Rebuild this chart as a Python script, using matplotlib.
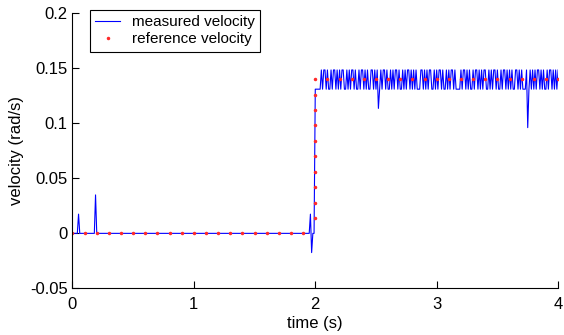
import numpy as np
import matplotlib.pyplot as plt

plt.rcParams['font.family'] = ['Liberation Sans', 'DejaVu Sans']
plt.rcParams['font.size'] = 12

# encoder resolution: half a degree -> velocity quantum (rad/s)
quantum = np.pi / 360

# measured velocity before the step (breakpoints of the trace, in quanta)
meas_t_pre = [0.00, 0.04, 0.05, 0.06, 0.18, 0.19, 0.20, 1.95, 1.96, 1.97, 1.98, 1.99]
meas_q_pre = [0, 0, 2, 0, 0, 4, 0, 0, 2, -2, 0, 0]

# measured velocity after the step, sampled every 10 ms from t = 2.00 s (in quanta)
meas_q_post = [
    15, 15, 15, 15, 15, 17, 15, 17, 17, 15, 17, 15, 15, 17, 15, 17, 17, 15, 17, 15,
    17, 15, 17, 17, 15, 15, 17, 15, 17, 15, 17, 17, 15, 17, 15, 15, 17, 15, 17, 17,
    15, 17, 15, 17, 15, 15, 17, 17, 15, 17, 15, 17, 13, 15, 17, 15, 17, 17, 15, 17,
    15, 15, 17, 15, 17, 15, 17, 17, 15, 17, 15, 15, 17, 15, 17, 15, 17, 17, 15, 17,
    15, 17, 15, 17, 15, 15, 15, 17, 17, 15, 17, 15, 17, 15, 17, 17, 15, 15, 17, 15,
    17, 15, 17, 17, 15, 17, 15, 15, 17, 15, 17, 15, 17, 17, 15, 17, 15, 15, 15, 15,
    17, 15, 17, 17, 15, 17, 15, 17, 15, 15, 17, 15, 17, 17, 15, 17, 15, 17, 15, 17,
    17, 15, 15, 17, 15, 17, 15, 17, 17, 15, 17, 15, 15, 17, 15, 17, 17, 15, 17, 15,
    17, 15, 17, 15, 15, 17, 17, 15, 17, 15, 17, 15, 15, 15, 17, 11, 15, 17, 15, 17,
    15, 17, 15, 17, 17, 15, 17, 15, 17, 15, 15, 17, 15, 17, 17, 15, 17, 15, 17, 15,
    17,
]
post_t0, post_dt = 2.00, 0.01

# reference velocity samples
ref_t_low = [0.0, 0.1, 0.2, 0.3, 0.4, 0.5, 0.6, 0.7, 0.8, 0.9,
             1.0, 1.1, 1.2, 1.3, 1.4, 1.5, 1.6, 1.7, 1.8, 1.9]
ref_v_low = [0.0] * len(ref_t_low)
ref_t_ramp = [2.0] * 10
ref_v_ramp = [0.014, 0.028, 0.042, 0.056, 0.070, 0.084, 0.098, 0.112, 0.126, 0.140]
ref_t_high = [2.1, 2.2, 2.3, 2.4, 2.5, 2.6, 2.7, 2.8, 2.9, 3.0,
              3.1, 3.2, 3.3, 3.4, 3.5, 3.6, 3.7, 3.8, 3.9, 4.0]
ref_v_high = [0.14] * len(ref_t_high)

meas_t = np.concatenate([meas_t_pre, post_t0 + post_dt * np.arange(len(meas_q_post))])
meas_v = quantum * np.concatenate([meas_q_pre, meas_q_post])
ref_t = np.concatenate([ref_t_low, ref_t_ramp, ref_t_high])
ref_v = np.concatenate([ref_v_low, ref_v_ramp, ref_v_high])

fig = plt.figure(figsize=(5.64, 3.35), dpi=100)
ax = fig.add_axes([0.1285, 0.139, 0.861, 0.822])
ax.plot(meas_t, meas_v, color='blue', lw=0.8, label='measured velocity')
ax.plot(ref_t, ref_v, '.', color='#ff2a2a', ms=3, label='reference velocity')

ax.set_xlim(0, 4); ax.set_ylim(-0.05, 0.2)
ax.set_xticks([0, 1, 2, 3, 4])
ax.set_yticks([-0.05, 0, 0.05, 0.1, 0.15, 0.2])
ax.set_yticklabels(['-0.05', '0', '0.05', '0.1', '0.15', '0.2'])
ax.spines['top'].set_visible(False); ax.spines['right'].set_visible(False)
ax.tick_params(direction='in', length=5, width=0.8)
ax.tick_params(axis='x', pad=6)
ax.set_xlabel('time (s)', labelpad=3); ax.set_ylabel('velocity (rad/s)', labelpad=4)

leg = ax.legend(loc='upper left', bbox_to_anchor=(0.036, 1.011), borderaxespad=0,
                fancybox=False, edgecolor='black', framealpha=1, handlelength=1.6,
                borderpad=0.35, labelspacing=0.2, handletextpad=0.8, numpoints=1,
                fontsize=11)
leg.get_frame().set_linewidth(0.8)

fig.savefig('out.png', dpi=100)
